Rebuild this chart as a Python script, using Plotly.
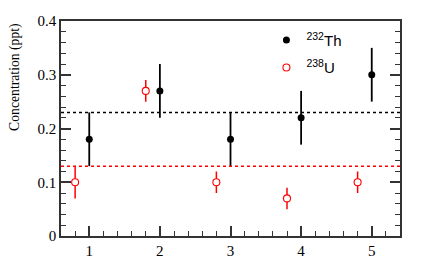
import plotly.graph_objects as go

th_x = [1, 2, 3, 4, 5]
th_y = [0.18, 0.27, 0.18, 0.22, 0.30]
th_err = [0.05, 0.05, 0.05, 0.05, 0.05]

u_x = [0.8, 1.8, 2.8, 3.8, 4.8]
u_y = [0.10, 0.27, 0.10, 0.07, 0.10]
u_err = [0.03, 0.02, 0.02, 0.02, 0.02]

th_mean = 0.23
u_mean = 0.13

x_ticks = [1, 2, 3, 4, 5]
y_ticks = [0, 0.1, 0.2, 0.3, 0.4]
y_title = "Concentration (ppt)"

fig = go.Figure()
fig.add_trace(go.Scatter(
    x=th_x, y=th_y, mode="markers", name="<sup>232</sup>Th",
    marker=dict(symbol="circle", size=7, color="black"),
    error_y=dict(type="data", array=th_err, visible=True, width=0, thickness=1.8, color="black"),
    legendgroup="a",
))
fig.add_trace(go.Scatter(
    x=u_x, y=u_y, mode="markers", name="<sup>238</sup>U",
    marker=dict(symbol="circle", size=7, color="white", line=dict(color="red", width=1.1)),
    error_y=dict(type="data", array=u_err, visible=True, width=0, thickness=1.5, color="red"),
    legendgroup="b",
))

fig.add_shape(type="line", xref="x domain", yref="y", x0=0, x1=1, y0=th_mean, y1=th_mean,
              line=dict(color="black", width=1.5, dash="dot"))
fig.add_shape(type="line", xref="x domain", yref="y", x0=0, x1=1, y0=u_mean, y1=u_mean,
              line=dict(color="red", width=1.5, dash="dot"))

serif = "Liberation Serif, Times New Roman, serif"
fig.add_annotation(text=y_title, xref="paper", yref="paper", x=-0.136, y=1.0,
                   xanchor="center", yanchor="top", textangle=-90, showarrow=False,
                   font=dict(family=serif, size=13.7, color="black"))

axis_col = "#333333"
fig.update_layout(
    width=436, height=274,
    margin=dict(l=61, r=36, t=21, b=38),
    paper_bgcolor="white", plot_bgcolor="white",
    font=dict(family=serif, size=15, color="black"),
    showlegend=True,
    legend=dict(x=0.606, y=0.987, xanchor="left", yanchor="top",
                font=dict(family="Liberation Sans, Arial, sans-serif", size=15, color="black"),
                bgcolor="rgba(0,0,0,0)", tracegroupgap=5, traceorder="grouped",
                itemsizing="trace"),
    xaxis=dict(range=[0.6, 5.4], tickvals=x_ticks, ticks="inside", ticklen=10, tickwidth=1.5,
               tickcolor=axis_col, showline=True, linecolor=axis_col, linewidth=1.5,
               mirror=True, showgrid=False, zeroline=False, automargin=False,
               minor=dict(dtick=0.2, tick0=0, ticks="inside", ticklen=5, tickwidth=1.2,
                          tickcolor=axis_col, showgrid=False),
               tickfont=dict(family=serif, size=15)),
    yaxis=dict(range=[0, 0.4], tickvals=y_ticks, ticks="inside", ticklen=10, tickwidth=1.5,
               tickcolor=axis_col, showline=True, linecolor=axis_col, linewidth=1.5,
               mirror="ticks", showgrid=False, zeroline=False, automargin=False,
               minor=dict(dtick=0.02, tick0=0, ticks="inside", ticklen=5, tickwidth=1.2,
                          tickcolor=axis_col, showgrid=False),
               tickfont=dict(family=serif, size=15)),
)

fig.write_html("out.html", config={"displayModeBar": False},
               post_script="document.body.style.margin='0';document.body.style.overflow='hidden';")
